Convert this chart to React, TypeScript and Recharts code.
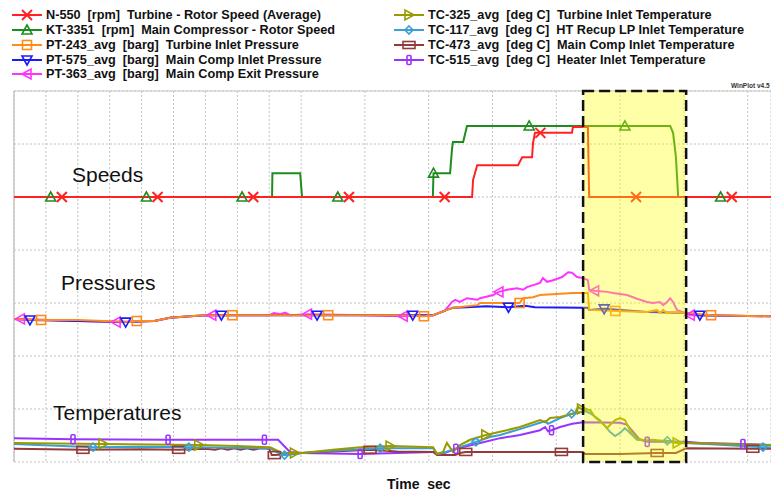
import React from 'react';
import { LineChart, Line, XAxis, YAxis, CartesianGrid, ReferenceArea, ReferenceLine } from 'recharts';

// [time (s), value (plot units), marker?]
type Pt = [number, number, number?];

const timeTicks = [0, 100, 200, 300, 400, 500, 600, 700, 800, 900, 1000, 1100, 1200, 1300, 1400, 1500, 1600, 1700, 1800, 1900, 2000, 2100, 2200, 2300];
const valueTicks = [0, 1, 2, 3, 4, 5, 6, 7];
const highlightWindow = [1784, 2107];

const n550: Pt[] = [[0,5],[150,5,1],[450,5,1],[750,5,1],[1050,5,1],[1350,5,1],[1436,5],[1439,5.32],[1452,5.6],[1580,5.6],[1593,5.75],[1624,5.75],[1627,6.02],[1633,6.21],[1650,6.21,1],[1749,6.21],[1752,6.32],[1799,6.32],[1803,5],[1950,5,1],[2250,5,1],[2373,5]];
const kt3351: Pt[] = [[0,5],[115,5,1],[415,5,1],[715,5,1],[809,5],[810,5.45],[897,5.45],[903,5],[1015,5,1],[1313,5],[1315,5.45,1],[1367,5.45],[1373,5.9],[1376,6.04],[1408,6.04],[1420,6.34],[1615,6.34,1],[1915,6.34,1],[2057,6.34],[2066,6.21],[2075,5.75],[2082,5],[2215,5,1],[2373,5]];
const pt243: Pt[] = [[0,2.7],[85,2.68,1],[200,2.68],[364,2.64],[385,2.66,1],[440,2.66],[489,2.72],[552,2.75],[599,2.77],[685,2.77,1],[985,2.77,1],[1200,2.77],[1285,2.75,1],[1314,2.77],[1357,2.87],[1376,2.91],[1452,2.96],[1461,3.0],[1585,3.0,1],[1596,3.09],[1627,3.11],[1649,3.15],[1752,3.19],[1799,3.19],[1803,2.87],[1885,2.85,1],[1984,2.83],[2016,2.87],[2025,2.81],[2035,2.87],[2047,2.81],[2066,2.83],[2110,2.81],[2185,2.77,1],[2373,2.75]];
const pt575: Pt[] = [[0,2.7],[50,2.68,1],[200,2.66],[350,2.64,1],[440,2.66],[489,2.72],[552,2.75],[599,2.77],[650,2.77,1],[950,2.77,1],[1250,2.77,1],[1314,2.77],[1357,2.87],[1376,2.91],[1420,2.92],[1480,2.94],[1550,2.92,1],[1602,2.95],[1633,2.92],[1780,2.91],[1799,2.91],[1803,2.87],[1850,2.89,1],[1984,2.83],[2110,2.81],[2150,2.77,1],[2373,2.75]];
const pt363: Pt[] = [[0,2.7],[20,2.7,1],[200,2.66],[320,2.64,1],[440,2.66],[489,2.72],[552,2.75],[620,2.77,1],[800,2.77],[815,2.81],[835,2.79],[850,2.82],[865,2.77],[920,2.79,1],[1100,2.77],[1220,2.75,1],[1314,2.77],[1350,2.85],[1373,3.02],[1383,3.06],[1398,3.02],[1420,3.09],[1452,3.06],[1461,3.09],[1502,3.15],[1520,3.21,1],[1546,3.25],[1577,3.28],[1596,3.25],[1608,3.3],[1649,3.38],[1658,3.47],[1671,3.4],[1690,3.43],[1718,3.49],[1737,3.58],[1749,3.57],[1765,3.49],[1784,3.47],[1799,3.43],[1803,3.25],[1820,3.23,1],[1859,3.21],[1878,3.19],[1922,3.15],[1953,3.08],[1984,3.02],[2003,3.0],[2025,3.02],[2035,2.96],[2047,3.02],[2057,3.09],[2066,3.02],[2078,2.87],[2104,2.81],[2120,2.77,1],[2373,2.75]];
const tc325: Pt[] = [[0,0.36],[279,0.34,1],[579,0.32,1],[700,0.3],[803,0.28],[840,0.17],[879,0.17,1],[903,0.17],[1000,0.23],[1085,0.28],[1179,0.3,1],[1314,0.28],[1326,0.15],[1345,0.19],[1357,0.36],[1376,0.19],[1398,0.32],[1430,0.42],[1479,0.51,1],[1524,0.57],[1586,0.66],[1649,0.79],[1665,0.75],[1680,0.83],[1712,0.85],[1759,0.92],[1768,1.04],[1779,1.0,1],[1806,0.98],[1821,0.85],[1850,0.7],[1859,0.64],[1884,0.79],[1900,0.83],[1915,0.79],[1931,0.6],[1953,0.45],[1978,0.4],[2003,0.42],[2079,0.36,1],[2107,0.36],[2373,0.32]];
const tc117: Pt[] = [[0,0.34],[248,0.28,1],[400,0.29],[548,0.28,1],[803,0.26],[835,0.15],[848,0.13,1],[903,0.17],[1000,0.21],[1148,0.26,1],[1314,0.26],[1326,0.15],[1345,0.17],[1398,0.28],[1448,0.38,1],[1492,0.47],[1524,0.51],[1586,0.62],[1649,0.74],[1665,0.77],[1674,0.72],[1712,0.83],[1748,0.91,1],[1774,0.94],[1790,0.96],[1806,0.92],[1837,0.79],[1868,0.57],[1884,0.49],[1900,0.55],[1915,0.64],[1953,0.42],[1990,0.4],[2048,0.4,1],[2107,0.36],[2200,0.33],[2348,0.28,1],[2373,0.28]];
const tc473: Pt[] = [[0,0.25],[216,0.23,1],[400,0.24],[516,0.23,1],[600,0.25],[630,0.23],[650,0.26],[670,0.23],[690,0.26],[710,0.23],[730,0.26],[750,0.23],[770,0.26],[800,0.25],[808,0.13],[816,0.13,1],[870,0.15],[903,0.17],[1000,0.2],[1116,0.23,1],[1200,0.2],[1314,0.19],[1326,0.13],[1383,0.13],[1398,0.17],[1416,0.19,1],[1600,0.19],[1716,0.19,1],[1784,0.19],[1790,0.15],[1900,0.15],[2016,0.17,1],[2075,0.17],[2107,0.26],[2316,0.25,1],[2373,0.25]];
const tc515: Pt[] = [[0,0.45],[185,0.43,1],[483,0.42,1],[785,0.42,1],[828,0.42],[865,0.19],[903,0.17],[1085,0.15,1],[1200,0.17],[1314,0.19],[1330,0.15],[1350,0.17],[1385,0.25,1],[1461,0.36],[1524,0.45],[1586,0.51],[1649,0.6],[1665,0.66],[1674,0.58],[1685,0.6,1],[1712,0.66],[1750,0.72],[1784,0.75],[1900,0.74],[1922,0.7],[1962,0.42],[1985,0.38,1],[2107,0.38],[2151,0.36],[2285,0.34,1],[2373,0.32]];

const groupLabels = ['Speeds', 'Pressures', 'Temperatures'];

type Shape = 'x' | 'triUp' | 'square' | 'triDown' | 'triLeft' | 'triRight' | 'diamond' | 'rectWide' | 'rectTall';

interface SeriesDef { id: string; label: string; color: string; shape: Shape; pts: Pt[]; }

const seriesDefs: SeriesDef[] = [
  { id: 'n550', label: 'N-550  [rpm]  Turbine - Rotor Speed (Average)', color: '#ff2222', shape: 'x', pts: n550 },
  { id: 'kt3351', label: 'KT-3351  [rpm]  Main Compressor - Rotor Speed', color: '#1f8c1f', shape: 'triUp', pts: kt3351 },
  { id: 'pt243', label: 'PT-243_avg  [barg]  Turbine Inlet Pressure', color: '#ff8c1a', shape: 'square', pts: pt243 },
  { id: 'pt575', label: 'PT-575_avg  [barg]  Main Comp Inlet Pressure', color: '#1a1aff', shape: 'triDown', pts: pt575 },
  { id: 'pt363', label: 'PT-363_avg  [barg]  Main Comp Exit Pressure', color: '#ff33ff', shape: 'triLeft', pts: pt363 },
  { id: 'tc325', label: 'TC-325_avg  [deg C]  Turbine Inlet Temperature', color: '#999900', shape: 'triRight', pts: tc325 },
  { id: 'tc117', label: 'TC-117_avg  [deg C]  HT Recup LP Inlet Temperature', color: '#3a9fd4', shape: 'diamond', pts: tc117 },
  { id: 'tc473', label: 'TC-473_avg  [deg C]  Main Comp Inlet Temperature', color: '#943a3a', shape: 'rectWide', pts: tc473 },
  { id: 'tc515', label: 'TC-515_avg  [deg C]  Heater Inlet Temperature', color: '#9933ff', shape: 'rectTall', pts: tc515 },
];

const toRows = (pts: Pt[]) => pts.map(([t, v, m]) => ({ t, v, m: m ? 1 : 0 }));

const Marker = ({ shape, color, cx, cy }: { shape: Shape; color: string; cx: number; cy: number }) => {
  const s = { fill: 'none', stroke: color, strokeWidth: 1.6 };
  switch (shape) {
    case 'x':
      return (
        <g stroke={color} strokeWidth={2}>
          <line x1={cx - 5} y1={cy - 5} x2={cx + 5} y2={cy + 5} />
          <line x1={cx - 5} y1={cy + 5} x2={cx + 5} y2={cy - 5} />
        </g>
      );
    case 'triUp':
      return <polygon points={`${cx},${cy - 5} ${cx - 5},${cy + 4} ${cx + 5},${cy + 4}`} {...s} />;
    case 'triDown':
      return <polygon points={`${cx - 5},${cy - 4} ${cx + 5},${cy - 4} ${cx},${cy + 5}`} {...s} />;
    case 'triLeft':
      return <polygon points={`${cx - 5},${cy} ${cx + 4},${cy - 5} ${cx + 4},${cy + 5}`} {...s} />;
    case 'triRight':
      return <polygon points={`${cx + 5},${cy} ${cx - 4},${cy - 5} ${cx - 4},${cy + 5}`} {...s} />;
    case 'square':
      return <rect x={cx - 4.5} y={cy - 4.5} width={9} height={9} {...s} />;
    case 'diamond':
      return <polygon points={`${cx},${cy - 4} ${cx + 4},${cy} ${cx},${cy + 4} ${cx - 4},${cy}`} {...s} />;
    case 'rectWide':
      return <rect x={cx - 6} y={cy - 3.5} width={12} height={7} {...s} />;
    case 'rectTall':
      return <rect x={cx - 2} y={cy - 4.5} width={4} height={9} rx={1} {...s} />;
  }
  return null;
};

const makeDot = (shape: Shape, color: string) => (props: any) => {
  const { cx, cy, payload, index } = props;
  if (!payload || !payload.m || cx == null || cy == null) return <g key={`n${index}`} />;
  return (
    <g key={`m${index}`}>
      <Marker shape={shape} color={color} cx={cx} cy={cy} />
    </g>
  );
};

const LegendRow = ({ def, x, y }: { def: SeriesDef; x: number; y: number }) => (
  <div style={{ position: 'absolute', left: x, top: y - 8, height: 16, display: 'flex', alignItems: 'center', whiteSpace: 'pre' }}>
    <svg width={30} height={16} style={{ display: 'block' }}>
      <line x1={0} y1={8} x2={30} y2={8} stroke={def.color} strokeWidth={2} />
      <Marker shape={def.shape} color={def.color} cx={15} cy={8} />
    </svg>
    <span style={{ marginLeft: 4, fontSize: 12.7, fontWeight: 700, color: '#111', lineHeight: '16px' }}>{def.label}</span>
  </div>
);

export default function App() {
  const drawOrder = [...seriesDefs].reverse();
  const left = seriesDefs.slice(0, 5);
  const right = seriesDefs.slice(5);
  const rowY = [15, 30, 45, 60, 74];
  return (
    <div style={{ position: 'absolute', left: 0, top: 0, width: 771, height: 492, overflow: 'hidden', background: '#fff', fontFamily: '"Liberation Sans", Arial, sans-serif' }}>
      <div style={{ position: 'absolute', left: 0, top: 0 }}>
        <LineChart width={771} height={492} margin={{ top: 91, right: 0, bottom: 30, left: 14 }}>
          <XAxis type="number" dataKey="t" domain={[0, 2373]} ticks={timeTicks} hide allowDataOverflow />
          <YAxis type="number" dataKey="v" domain={[0, 7]} ticks={valueTicks} hide allowDataOverflow />
          <CartesianGrid stroke="#c2c2c2" strokeDasharray="2 2" />
          <ReferenceLine x={0} stroke="#bdbdbd" strokeWidth={1.2} />
          <ReferenceLine y={7} stroke="#c8c8c8" strokeWidth={1.2} />
          {drawOrder.map((d) => (
            <Line
              key={d.id}
              data={toRows(d.pts)}
              dataKey="v"
              name={d.label}
              type="linear"
              stroke={d.color}
              strokeWidth={2}
              dot={makeDot(d.shape, d.color)}
              activeDot={false}
              isAnimationActive={false}
            />
          ))}
          <ReferenceArea zIndex={1000} x1={highlightWindow[0]} x2={highlightWindow[1]} y1={0} y2={7} fill="#ffff00" fillOpacity={0.34} stroke="#111" strokeWidth={2.5} strokeDasharray="11 5" ifOverflow="visible" />
        </LineChart>
      </div>
      {left.map((d, i) => <LegendRow key={d.id} def={d} x={12} y={rowY[i]} />)}
      {right.map((d, i) => <LegendRow key={d.id} def={d} x={394} y={rowY[i]} />)}
      <div style={{ position: 'absolute', left: 72, top: 164, fontSize: 21, lineHeight: '21px', color: '#111' }}>{groupLabels[0]}</div>
      <div style={{ position: 'absolute', left: 61, top: 272, fontSize: 21, lineHeight: '21px', color: '#111' }}>{groupLabels[1]}</div>
      <div style={{ position: 'absolute', left: 53, top: 402, fontSize: 21, lineHeight: '21px', color: '#111' }}>{groupLabels[2]}</div>
      <div style={{ position: 'absolute', left: 387, top: 476, fontSize: 14, fontWeight: 700, lineHeight: '16px', color: '#111', whiteSpace: 'pre' }}>Time  sec</div>
      <div style={{ position: 'absolute', left: 731, top: 82, fontSize: 6.5, fontWeight: 700, lineHeight: '8px', color: '#333', whiteSpace: 'pre' }}>WinPlot v4.5</div>
    </div>
  );
}
